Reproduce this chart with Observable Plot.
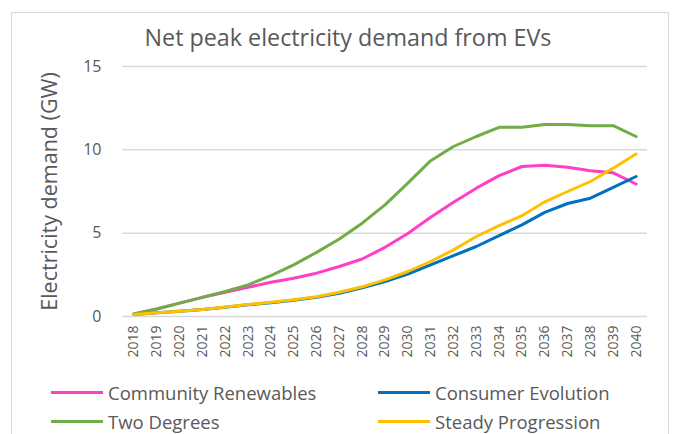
<!DOCTYPE html>
<html>
<head>
<meta charset="utf-8">
<script src="https://cdn.jsdelivr.net/npm/d3@7"></script>
<script src="https://cdn.jsdelivr.net/npm/@observablehq/plot@0.6"></script>
<style>
  html, body { margin: 0; padding: 0; background: #fff; }
  #wrap { position: relative; width: 673px; height: 434px; overflow: hidden; font-family: "Open Sans", Lato, sans-serif; color: #595959; }
  #frame { position: absolute; left: 11px; top: 12px; width: 658px; height: 440px; border: 1.5px solid #d9d9d9; box-sizing: border-box; }
  #title { position: absolute; top: 23px; left: 348px; transform: translateX(-50%); white-space: nowrap; font-size: 23.3px; line-height: 28px; color: #595959; }
  #chart { position: absolute; left: 0; top: 55px; }
  .leg { position: absolute; display: flex; align-items: center; font-size: 18.5px; white-space: nowrap; color: #595959; }
  .leg .sw { width: 52px; height: 3px; margin-right: 5px; }
</style>
</head>
<body>
<div id="wrap">
  <div id="frame"></div>
  <div id="title">Net peak electricity demand from EVs</div>
  <div id="chart"></div>
  <div id="legend"></div>
</div>
<script>
const years = [2018, 2019, 2020, 2021, 2022, 2023, 2024, 2025, 2026, 2027, 2028, 2029, 2030, 2031, 2032, 2033, 2034, 2035, 2036, 2037, 2038, 2039, 2040];
const seriesNames = ["Community Renewables", "Consumer Evolution", "Two Degrees", "Steady Progression"];
const seriesColors = ["#ff3fc8", "#0070c0", "#70ad47", "#ffc000"];
const communityRenewables = [0.15, 0.45, 0.8, 1.15, 1.45, 1.75, 2.05, 2.3, 2.6, 3.0, 3.45, 4.15, 4.98, 5.95, 6.85, 7.7, 8.45, 9.0, 9.08, 8.95, 8.75, 8.62, 7.95];
const consumerEvolution = [0.12, 0.22, 0.32, 0.42, 0.55, 0.7, 0.82, 0.97, 1.15, 1.4, 1.72, 2.1, 2.55, 3.1, 3.65, 4.2, 4.85, 5.5, 6.25, 6.78, 7.1, 7.75, 8.4];
const twoDegrees = [0.15, 0.45, 0.8, 1.15, 1.5, 1.9, 2.45, 3.1, 3.85, 4.65, 5.6, 6.7, 8.0, 9.35, 10.2, 10.8, 11.35, 11.35, 11.52, 11.52, 11.45, 11.45, 10.8];
const steadyProgression = [0.12, 0.22, 0.32, 0.42, 0.57, 0.72, 0.85, 1.0, 1.18, 1.45, 1.78, 2.2, 2.7, 3.3, 4.0, 4.8, 5.45, 6.05, 6.88, 7.5, 8.1, 8.9, 9.75];
const yTicks = [0, 5, 10, 15];
const yTitle = "Electricity demand (GW)";

const seriesValues = [communityRenewables, consumerEvolution, twoDegrees, steadyProgression];
const data = [];
seriesNames.forEach((name, i) => {
  years.forEach((yr, j) => data.push({series: name, year: yr, value: seriesValues[i][j]}));
});

const chart = Plot.plot({
  width: 673,
  height: 300,
  marginTop: 11,
  marginBottom: 39,
  marginLeft: 122,
  marginRight: 26,
  style: {fontFamily: "'Open Sans', Lato, sans-serif", color: "#595959", background: "transparent", overflow: "visible"},
  x: {type: "linear", domain: [years[0] - 0.5, years[years.length - 1] + 0.5]},
  y: {domain: [0, 15]},
  color: {domain: seriesNames, range: seriesColors},
  marks: [
    Plot.gridY(yTicks, {stroke: "#d9d9d9", strokeOpacity: 1, strokeWidth: 1.5}),
    Plot.axisY(yTicks, {tickSize: 0, tickPadding: 21, fontSize: 16, label: null, fill: "#595959"}),
    Plot.axisX(years, {tickRotate: -90, tickSize: 0, tickPadding: 9, fontSize: 14, label: null, fill: "#595959", tickFormat: d => String(d)}),
    Plot.text([yTitle], {frameAnchor: "left", dx: -72, rotate: -90, textAnchor: "middle", fontSize: 21.5, fill: "#595959", text: d => d}),
    Plot.line(data, {x: "year", y: "value", z: "series", stroke: "series", strokeWidth: 3, strokeLinejoin: "round", strokeLinecap: "round"})
  ]
});
document.getElementById("chart").appendChild(chart);

const legendPos = [[51, 392], [378, 392], [51, 421], [378, 421]];
const legend = document.getElementById("legend");
seriesNames.forEach((name, i) => {
  const el = document.createElement("div");
  el.className = "leg";
  el.style.left = legendPos[i][0] + "px";
  el.style.top = (legendPos[i][1] - 12) + "px";
  el.style.height = "24px";
  const sw = document.createElement("div");
  sw.className = "sw";
  sw.style.background = seriesColors[i];
  el.appendChild(sw);
  const t = document.createElement("span");
  t.textContent = name;
  el.appendChild(t);
  legend.appendChild(el);
});
</script>
</body>
</html>
